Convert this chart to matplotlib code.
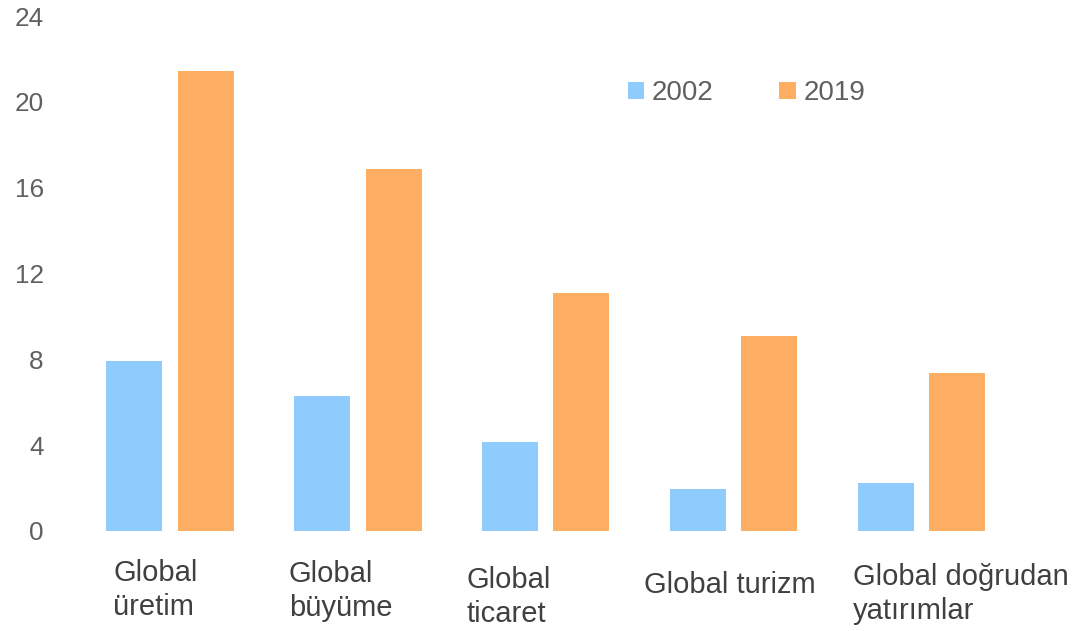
import matplotlib
matplotlib.use("Agg")
import matplotlib.pyplot as plt
import numpy as np

categories = ["Global\nüretim", "Global\nbüyüme", "Global\nticaret", "Global turizm", "Global doğrudan\nyatırımlar"]
series_names = ["2002", "2019"]
values_2002 = [7.9, 6.28, 4.14, 1.95, 2.23]
values_2019 = [21.44, 16.88, 11.07, 9.07, 7.35]
yticks = [0, 4, 8, 12, 16, 20, 24]

# label placement (styling): left offset from group centre, first-line baseline position
label_dx = [-0.303, -0.367, -0.420, -0.479, -0.364]
label_y = [-2.33, -2.38, -2.66, -2.89, -2.52]
line_step = 1.6

plt.rcParams['font.family'] = ['Liberation Sans', 'DejaVu Sans']

W, H = 1074, 631
fig = plt.figure(figsize=(W / 100, H / 100), dpi=100)
left_px, right_px = 50, 1016
bottom_px, top_px = 531, 16
ax = fig.add_axes([left_px / W, (H - bottom_px) / H, (right_px - left_px) / W, (bottom_px - top_px) / H])

x = np.arange(len(categories))
bw = 0.298
off = 0.19
c2002 = '#8FCBFD'
c2019 = '#FDAE62'
ax.bar(x - off, values_2002, width=bw, color=c2002, label=series_names[0])
ax.bar(x + off, values_2019, width=bw, color=c2019, label=series_names[1])

ax.set_xlim(-(170 - left_px) / 188, 4 + (right_px - 921.5) / 188)
ax.set_ylim(0, 24)
ax.set_yticks(yticks)
ax.set_yticklabels([str(t) for t in yticks], fontsize=18.8, color='#606060')
ax.tick_params(axis='y', length=0, pad=4.5)
ax.set_xticks([])
for s in ax.spines.values():
    s.set_visible(False)

for i, lab in enumerate(categories):
    for k, line in enumerate(lab.split("\n")):
        ax.text(x[i] + label_dx[i], label_y[i] - k * line_step, line, ha='left', va='baseline',
                fontsize=21, color='#404040', clip_on=False)

leg = ax.legend(ncol=2, frameon=False, loc='center left',
                bbox_to_anchor=(628 / W, 1 - 93 / H), bbox_transform=fig.transFigure,
                fontsize=20, handlelength=0.58, handleheight=0.58, handletextpad=0.28,
                columnspacing=2.37, borderpad=0, borderaxespad=0)
for t in leg.get_texts():
    t.set_color('#606060')

fig.savefig('out.png', dpi=100)
